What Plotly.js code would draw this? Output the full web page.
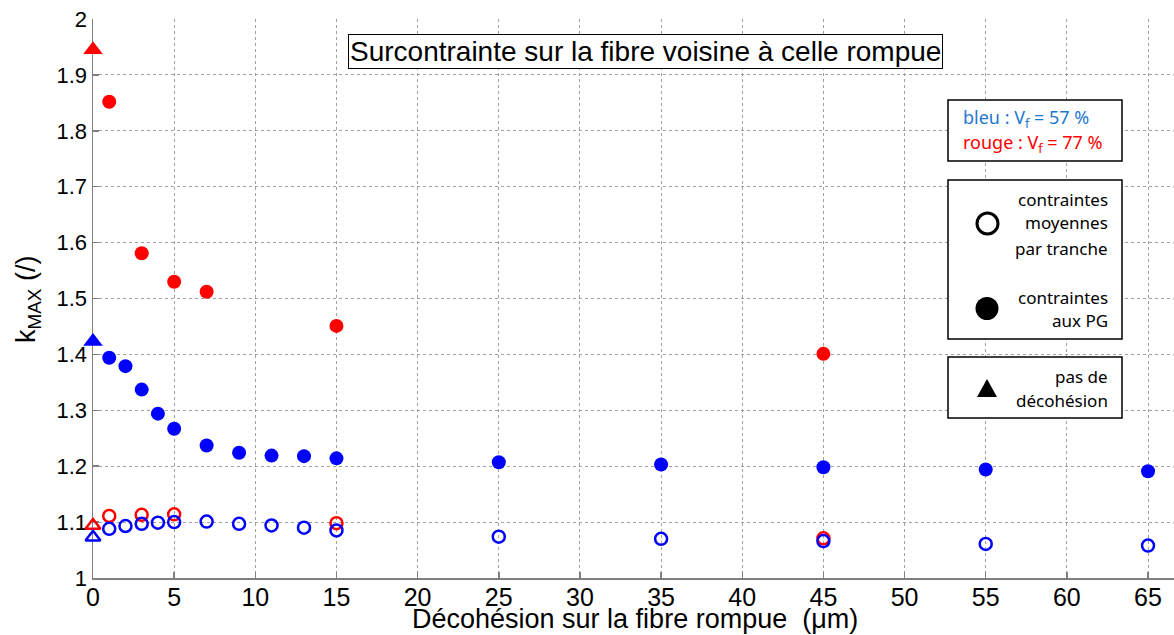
<!DOCTYPE html>
<html>
<head>
<meta charset="utf-8">
<script src="https://cdn.plot.ly/plotly-3.0.1.min.js"></script>
<style>html,body{margin:0;padding:0;background:#fff}#chart{width:1174px;height:635px}</style>
</head>
<body>
<div id="chart"></div>
<script>
// Data
var xBlueFilled = [1, 2, 3, 4, 5, 7, 9, 11, 13, 15, 25, 35, 45, 55, 65];
var yBlueFilled = [1.394, 1.379, 1.337, 1.294, 1.267, 1.237, 1.224, 1.219, 1.218, 1.214, 1.207, 1.203, 1.198, 1.194, 1.191];
var xBlueOpen = [1, 2, 3, 4, 5, 7, 9, 11, 13, 15, 25, 35, 45, 55, 65];
var yBlueOpen = [1.088, 1.093, 1.097, 1.099, 1.100, 1.101, 1.097, 1.094, 1.090, 1.085, 1.074, 1.070, 1.066, 1.061, 1.058];
var xRedFilled = [1, 3, 5, 7, 15, 45];
var yRedFilled = [1.852, 1.581, 1.530, 1.512, 1.451, 1.401];
var xRedOpen = [1, 3, 5, 15, 45];
var yRedOpen = [1.111, 1.113, 1.114, 1.098, 1.071];
var xTri = [0];
var yRedTriFilled = [1.945];
var yBlueTriFilled = [1.423];
var yRedTriOpen = [1.094];
var yBlueTriOpen = [1.073];

var xTicks = [0, 5, 10, 15, 20, 25, 30, 35, 40, 45, 50, 55, 60, 65];
var yTicks = [1, 1.1, 1.2, 1.3, 1.4, 1.5, 1.6, 1.7, 1.8, 1.9, 2];
var yTickText = ["1", "1.1", "1.2", "1.3", "1.4", "1.5", "1.6", "1.7", "1.8", "1.9", "2"];

var BLUE = "#0000ff", RED = "#ff0000";

function filled(x, y, c, sym, size) {
  return {x: x, y: y, type: "scatter", mode: "markers", cliponaxis: false, hoverinfo: "x+y",
    marker: {color: c, size: size, symbol: sym, line: {width: 0}}};
}
function open(x, y, c, sym, size) {
  return {x: x, y: y, type: "scatter", mode: "markers", cliponaxis: false, hoverinfo: "x+y",
    marker: {color: "rgba(0,0,0,0)", size: size, symbol: sym, line: {color: c, width: 2.5}}};
}

var traces = [
  open(xRedOpen, yRedOpen, RED, "circle", 12),
  open(xBlueOpen, yBlueOpen, BLUE, "circle", 12),
  filled(xRedFilled, yRedFilled, RED, "circle", 14),
  filled(xBlueFilled, yBlueFilled, BLUE, "circle", 14),
  open(xTri, yRedTriOpen, RED, "triangle-up", 13),
  open(xTri, yBlueTriOpen, BLUE, "triangle-up", 13),
  filled(xTri, yRedTriFilled, RED, "triangle-up", 17),
  filled(xTri, yBlueTriFilled, BLUE, "triangle-up", 17)
];

var legFam = "Noto Sans, Open Sans, sans-serif";
var legFont = {family: legFam, size: 17, color: "#000"};
function ann(x, y, text, opts) {
  var a = {xref: "paper", yref: "paper", x: x, y: y, text: text, showarrow: false,
    font: legFont, xanchor: "right", yanchor: "middle"};
  for (var k in opts) a[k] = opts[k];
  return a;
}
// paper coordinate helpers (plot area: x 93..1174, y 19..578)
function px(p) { return (p - 93) / (1174 - 93); }
function py(p) { return (578 - p) / (578 - 19); }

var shapes = [
  {type: "rect", xref: "paper", yref: "paper", x0: px(948), x1: px(1122), y0: py(100), y1: py(161), line: {color: "#000", width: 1.5}, fillcolor: "#fff"},
  {type: "rect", xref: "paper", yref: "paper", x0: px(948), x1: px(1122), y0: py(180), y1: py(339), line: {color: "#000", width: 1.5}, fillcolor: "#fff"},
  {type: "rect", xref: "paper", yref: "paper", x0: px(948), x1: px(1122), y0: py(357), y1: py(418), line: {color: "#000", width: 1.5}, fillcolor: "#fff"},
  // legend key symbols
  {type: "circle", xref: "paper", yref: "paper", x0: px(977), x1: px(998), y0: py(213), y1: py(234), line: {color: "#000", width: 3}, fillcolor: "#fff"},
  {type: "circle", xref: "paper", yref: "paper", x0: px(975.5), x1: px(998.5), y0: py(297), y1: py(320), line: {color: "#000", width: 0}, fillcolor: "#000"},
  {type: "path", xref: "paper", yref: "paper",
   path: "M " + px(977) + " " + py(397) + " L " + px(997) + " " + py(397) + " L " + px(987) + " " + py(379) + " Z",
   line: {color: "#000", width: 0}, fillcolor: "#000"}
];

var annotations = [
  {xref: "paper", yref: "paper", x: px(645), y: py(51.5), text: "Surcontrainte sur la fibre voisine à celle rompue",
   showarrow: false, font: {family: "Liberation Sans, Arial, sans-serif", size: 28, color: "#000"},
   bgcolor: "#fff", bordercolor: "#000", borderwidth: 1, borderpad: 1, xanchor: "center", yanchor: "middle"},
  ann(px(961), py(119), "bleu : V<sub>f</sub> = 57 %", {xanchor: "left", font: {family: legFam, size: 18, color: "#1f77d0"}}),
  ann(px(961), py(143), "rouge : V<sub>f</sub> = 77 %", {xanchor: "left", font: {family: legFam, size: 18, color: "#ff0000"}}),
  ann(px(1110), py(199), "contraintes"),
  ann(px(1110), py(223), "moyennes"),
  ann(px(1110), py(248), "par tranche"),
  ann(px(1110), py(297), "contraintes"),
  ann(px(1110), py(320), "aux PG"),
  ann(px(1110), py(376), "pas de"),
  ann(px(1110), py(400), "décohésion"),
  {xref: "paper", yref: "paper", x: px(28), y: py(300), text: "k<sub>MAX</sub> (/)", textangle: -90, showarrow: false,
   font: {family: "Liberation Sans, Arial, sans-serif", size: 27, color: "#000"}, xanchor: "center", yanchor: "middle"},
  {xref: "paper", yref: "paper", x: px(635), y: py(619), text: "Décohésion sur la fibre rompue  (μm)", showarrow: false,
   font: {family: "Liberation Sans, Arial, sans-serif", size: 27, color: "#000"}, xanchor: "center", yanchor: "middle"}
];

var layout = {
  width: 1174, height: 635,
  margin: {l: 93, r: 0, t: 19, b: 57, pad: 0},
  paper_bgcolor: "#fff", plot_bgcolor: "#fff",
  showlegend: false,
  font: {family: "Liberation Sans, Arial, sans-serif", size: 22, color: "#000"},
  xaxis: {range: [0, 66.6], tickvals: xTicks, ticks: "inside", ticklen: 6, tickcolor: "#808080", tickwidth: 1.5,
    showline: true, linecolor: "#808080", linewidth: 1.5, zeroline: false, layer: "below traces",
    showgrid: true, gridcolor: "#a0a0a0", griddash: "dot", gridwidth: 1, ticklabelstandoff: -4,
    tickfont: {size: 25}, fixedrange: true},
  yaxis: {range: [1, 2], tickvals: yTicks, ticktext: yTickText, ticks: "inside", ticklen: 6, tickcolor: "#808080", tickwidth: 1.5,
    showline: true, linecolor: "#808080", linewidth: 1.5, zeroline: false, layer: "below traces",
    showgrid: true, gridcolor: "#a0a0a0", griddash: "dot", gridwidth: 1,
    tickfont: {size: 22}, fixedrange: true},
  shapes: shapes,
  annotations: annotations
};

Plotly.newPlot("chart", traces, layout, {displayModeBar: false, staticPlot: true});
</script>
</body>
</html>
